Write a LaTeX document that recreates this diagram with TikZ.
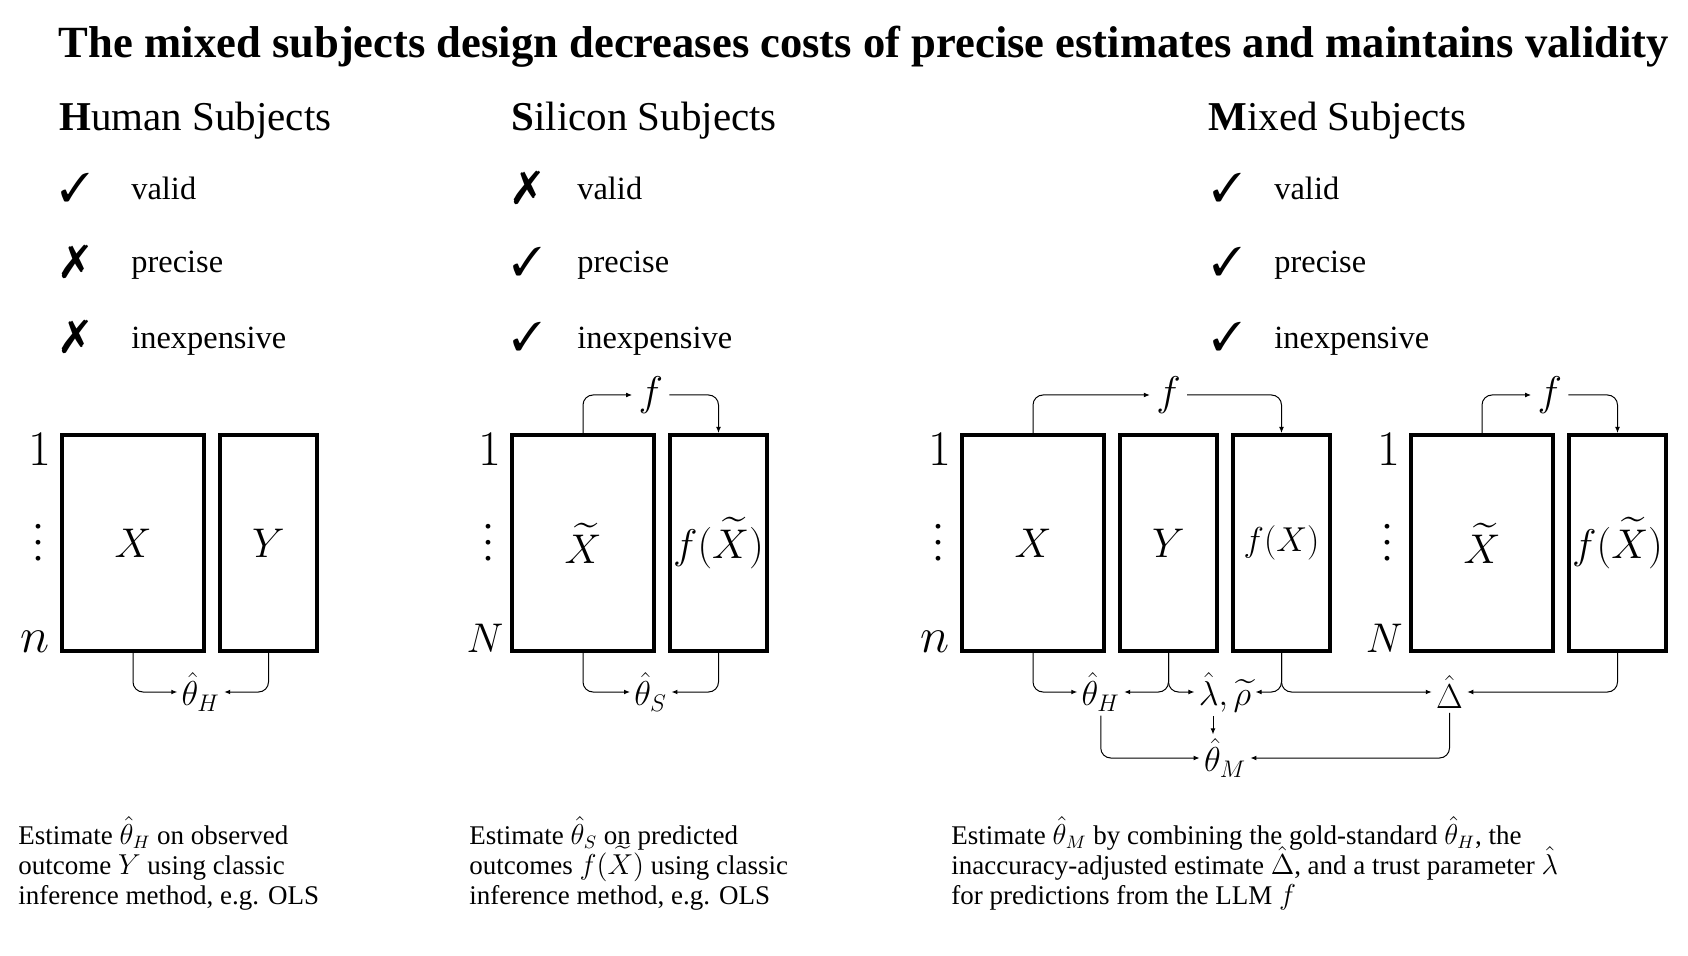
\documentclass[tikz,border=0pt]{standalone}
\usepackage{amsmath,amssymb}
\usepackage{graphicx}
\usepackage{pifont}
\usepackage{fontspec}
\setmainfont{Liberation Serif}
\usetikzlibrary{arrows.meta, positioning, calc}
\newcommand{\tightlines}{\lineskiplimit=-20pt\relax}

\begin{document}
\begin{tikzpicture}[x=0.5pt, y=0.5pt,
  wide/.style={draw, line width=2pt, minimum width=71pt, minimum height=108pt, inner sep=0pt, font=\fontsize{21}{21}\selectfont},
  narrow/.style={wide, minimum width=48.5pt},
  rowlab/.style={inner sep=0pt, font=\fontsize{24}{24}\selectfont},
  dots/.style={inner sep=0pt, font=\normalsize},
  flab/.style={inner sep=3pt, font=\fontsize{20}{20}\selectfont},
  est/.style={inner sep=2pt, font=\fontsize{18}{18}\selectfont},
  conn/.style={line width=0.5pt, rounded corners=5pt, -{Latex[length=3pt,width=2.4pt]}},
  head/.style={anchor=west, inner sep=0pt, font=\fontsize{20.5}{20.5}\selectfont},
  chk/.style={inner sep=0pt, font=\fontsize{20}{20}\selectfont},
  crs/.style={inner sep=0pt, font=\fontsize{23}{23}\selectfont},
  prop/.style={anchor=base west, inner sep=0pt, font=\fontsize{16.2}{16.2}\selectfont},
  note/.style={anchor=north west, align=left, inner sep=0pt, font=\fontsize{13.5}{15}\selectfont\tightlines}]
  \useasboundingbox (0,0) rectangle (1688,955);

  \node[font=\fontsize{22.3}{22.3}\selectfont\bfseries] (title) at (864,908) {The mixed subjects design decreases costs of precise estimates and maintains validity};

  % headings and properties
  \node[head] (hhead) at (59,834) {\textbf{H}uman Subjects};
  \node[head] (shead) at (511,834) {\textbf{S}ilicon Subjects};
  \node[head] (mhead) at (1208,834) {\textbf{M}ixed Subjects};

  \node[chk] (hc1) at (75,767) {\ding{51}};
  \node[crs] (hc2) at (75,693) {\ding{55}};
  \node[crs] (hc3) at (75,618) {\ding{55}};
  \node[prop] (hp1) at (131,755) {valid};
  \node[prop] (hp2) at (131,682) {precise};
  \node[prop] (hp3) at (131,606) {inexpensive};

  \node[crs] (sc1) at (527,767) {\ding{55}};
  \node[chk] (sc2) at (527,693) {\ding{51}};
  \node[chk] (sc3) at (527,618) {\ding{51}};
  \node[prop] (sp1) at (577,755) {valid};
  \node[prop] (sp2) at (577,682) {precise};
  \node[prop] (sp3) at (577,606) {inexpensive};

  \node[chk] (mc1) at (1227,767) {\ding{51}};
  \node[chk] (mc2) at (1227,693) {\ding{51}};
  \node[chk] (mc3) at (1227,618) {\ding{51}};
  \node[prop] (mp1) at (1274,755) {valid};
  \node[prop] (mp2) at (1274,682) {precise};
  \node[prop] (mp3) at (1274,606) {inexpensive};

  % human subjects
  \node[wide] (hx) at (133,412) {$X$};
  \node[narrow, right=6pt of hx] (hy) {$Y$};
  \node[rowlab, below left=0pt and 4pt of hx.north west] (h1) {$1$};
  \node[dots, left=8pt of hx.west, yshift=6pt] (hd) {\scalebox{2}{$\vdots$}};
  \node[rowlab, above left=0pt and 5pt of hx.south west] (hn) {$n$};
  \node[est] (hth) at ($(hx.south)!0.5!(hy.south)+(0,-39)$) {$\hat{\theta}_H$};
  \draw[conn] (hx.south) |- (hth.west);
  \draw[conn] (hy.south) |- (hth.east);

  % silicon subjects
  \node[wide] (sx) at (583,412) {$\widetilde{X}$};
  \node[narrow, right=6pt of sx] (sfx) {$f(\widetilde{X})$};
  \node[rowlab, below left=0pt and 4pt of sx.north west] (s1) {$1$};
  \node[dots, left=8pt of sx.west, yshift=6pt] (sd) {\scalebox{2}{$\vdots$}};
  \node[rowlab, above left=0pt and 3pt of sx.south west, font=\fontsize{21}{21}\selectfont] (sn) {$N$};
  \node[flab] (sf) at ($(sx.north)!0.5!(sfx.north)+(0,38)$) {$f$};
  \node[est] (sth) at ($(sx.south)!0.5!(sfx.south)+(0,-39)$) {$\hat{\theta}_S$};
  \draw[conn] (sx.north) |- (sf.west);
  \draw[conn] (sf.east) -| (sfx.north);
  \draw[conn] (sx.south) |- (sth.west);
  \draw[conn] (sfx.south) |- (sth.east);

  % mixed subjects, labelled part
  \node[wide] (mx) at (1033,412) {$X$};
  \node[narrow, right=6pt of mx] (my) {$Y$};
  \node[narrow, right=6pt of my, font=\fontsize{18}{18}\selectfont] (mfx) {$f(X)$};
  \node[rowlab, below left=0pt and 4pt of mx.north west] (m1) {$1$};
  \node[dots, left=8pt of mx.west, yshift=6pt] (md) {\scalebox{2}{$\vdots$}};
  \node[rowlab, above left=0pt and 5pt of mx.south west] (mn) {$n$};
  \node[flab] (mf) at ($(my.north)+(0,38)$) {$f$};
  \draw[conn] (mx.north) |- (mf.west);
  \draw[conn] (mf.east) -| (mfx.north);

  % mixed subjects, unlabelled part
  \node[wide] (ux) at (1482,412) {$\widetilde{X}$};
  \node[narrow, right=6pt of ux] (ufx) {$f(\widetilde{X})$};
  \node[rowlab, below left=0pt and 4pt of ux.north west] (u1) {$1$};
  \node[dots, left=8pt of ux.west, yshift=6pt] (ud) {\scalebox{2}{$\vdots$}};
  \node[rowlab, above left=0pt and 3pt of ux.south west, font=\fontsize{21}{21}\selectfont] (un) {$N$};
  \node[flab] (uf) at ($(ux.north)!0.5!(ufx.north)+(0,38)$) {$f$};
  \draw[conn] (ux.north) |- (uf.west);
  \draw[conn] (uf.east) -| (ufx.north);

  % mixed estimates
  \node[est] (mth) at ($(mx.south)!0.5!(my.south)+(0,-39)$) {$\hat{\theta}_H$};
  \node[est] (mlr) at ($(my.south)!0.5!(mfx.south)+(0,-39)$) {$\hat{\lambda}, \widetilde{\rho}$};
  \node[est] (mdl) at ($(mfx.south)!0.5!(ufx.south)+(0,-39)$) {$\hat{\Delta}$};
  \node[est] (mtm) at ($(mlr)+(0,-66)$) {$\hat{\theta}_M$};
  \draw[conn] (mx.south) |- (mth.west);
  \draw[conn] (my.south) |- (mth.east);
  \draw[conn] (my.south) |- (mlr.west);
  \draw[conn] (mfx.south) |- (mlr.east);
  \draw[conn] (mfx.south) |- (mdl.west);
  \draw[conn] (ufx.south) |- (mdl.east);
  \draw[conn] ([xshift=-6pt]mlr.south) -- ([xshift=-6pt]mtm.north);
  \draw[conn] (mth.south) |- (mtm.west);
  \draw[conn] (mdl.south) |- (mtm.east);

  % captions
  \node[note] (hnote) at (18,139) {Estimate $\hat{\theta}_H$ on observed\\outcome $Y$ using classic\\inference method, e.g. OLS};
  \node[note] (snote) at (469,139) {Estimate $\hat{\theta}_S$ on predicted\\outcomes $f(\widetilde{X})$ using classic\\inference method, e.g. OLS};
  \node[note] (mnote) at (951,139) {Estimate $\hat{\theta}_M$ by combining the gold-standard $\hat{\theta}_H$, the\\inaccuracy-adjusted estimate $\hat{\Delta}$, and a trust parameter $\hat{\lambda}$\\for predictions from the LLM $f$};
\end{tikzpicture}
\end{document}
